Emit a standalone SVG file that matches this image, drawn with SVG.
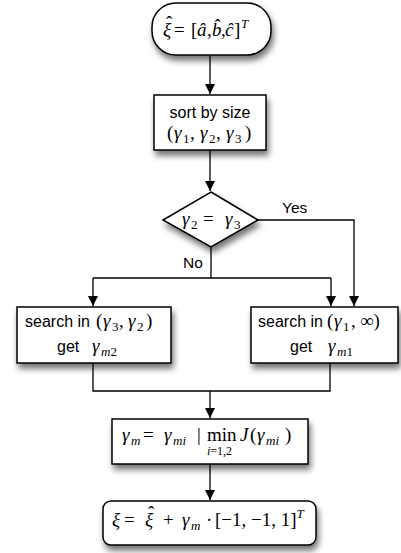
<svg xmlns="http://www.w3.org/2000/svg" width="401" height="553" viewBox="0 0 401 553">
<style>
.box{fill:#fff;stroke:#000;stroke-width:1.5;filter:url(#sh)}
.ln{fill:none;stroke:#000;stroke-width:1.3}
.sans{font-family:"Liberation Sans",Arial,sans-serif;font-size:16px;fill:#000}
.lbl{font-family:"Liberation Sans",Arial,sans-serif;font-size:15.5px;fill:#000}
.m{font-family:"Liberation Serif","DejaVu Serif",serif;font-size:19px;fill:#000}
.i{font-style:italic}
.s{font-size:13px}
.xs{font-size:12px}
</style>
<defs>
<filter id="sh" x="-20%" y="-20%" width="140%" height="160%">
<feGaussianBlur in="SourceAlpha" stdDeviation="3"/>
<feOffset dx="2" dy="5" result="b"/>
<feComponentTransfer><feFuncA type="linear" slope="0.55"/></feComponentTransfer>
<feMerge><feMergeNode/><feMergeNode in="SourceGraphic"/></feMerge>
</filter>
<marker id="ah" markerWidth="10" markerHeight="10" refX="10" refY="5" orient="auto" markerUnits="userSpaceOnUse">
<path d="M0,0 L10,5 L0,10 z" fill="#000"/>
</marker>
</defs>
<g id="connectors">
<path class="ln" d="M210,56 V94" marker-end="url(#ah)"/>
<path class="ln" d="M210,150 V191" marker-end="url(#ah)"/>
<path class="ln" d="M258,220 H354 V306" marker-end="url(#ah)"/>
<path class="ln" d="M211,247 V278"/>
<path class="ln" d="M93,278 H331"/>
<path class="ln" d="M93,278 V306" marker-end="url(#ah)"/>
<path class="ln" d="M331,278 V306" marker-end="url(#ah)"/>
<path class="ln" d="M93,363 V391 H330 V363"/>
<path class="ln" d="M210,391 V418" marker-end="url(#ah)"/>
<path class="ln" d="M210,464 V500" marker-end="url(#ah)"/>
<text class="lbl" x="282" y="213">Yes</text>
<text class="lbl" x="183" y="268">No</text>
</g>
<g id="start">
<rect class="box" x="152" y="3" width="119" height="52" rx="24" ry="24"/>
<text class="m" y="36"><tspan class="i" x="163">ξ</tspan><tspan x="174">=</tspan><tspan x="191">[</tspan><tspan class="i" x="197">â</tspan><tspan x="207">,</tspan><tspan class="i" x="212">b̂</tspan><tspan x="221">,</tspan><tspan class="i" x="225">ĉ</tspan><tspan x="234">]</tspan><tspan class="i s" x="241" y="28">T</tspan><tspan x="166" y="29">ˆ</tspan></text>
</g>
<g id="sort">
<rect class="box" x="154" y="95" width="112" height="55"/>
<text class="sans" x="210" y="118" text-anchor="middle" font-size="17">sort by size</text>
<text class="m" y="139"><tspan x="167">(</tspan><tspan class="i" x="174">γ</tspan><tspan class="s" x="183" dy="4">1</tspan><tspan x="190" dy="-4">,</tspan><tspan class="i" x="200">γ</tspan><tspan class="s" x="209" dy="4">2</tspan><tspan x="216" dy="-4">,</tspan><tspan class="i" x="226">γ</tspan><tspan class="s" x="235" dy="4">3</tspan><tspan x="245" dy="-4">)</tspan></text>
</g>
<g id="decision">
<path class="box" d="M211,192 L258,220 L211,247 L163,220 Z"/>
<text class="m" y="225"><tspan class="i" x="182">γ</tspan><tspan class="s" x="191" dy="4">2</tspan><tspan x="203" dy="-4">=</tspan><tspan class="i" x="225">γ</tspan><tspan class="s" x="234" dy="4">3</tspan></text>
</g>
<g id="left">
<rect class="box" x="17" y="307" width="154" height="56"/>
<text class="sans" x="25" y="327">search in</text>
<text class="m" y="327"><tspan x="96">(</tspan><tspan class="i" x="103">γ</tspan><tspan class="s" x="112" dy="4">3</tspan><tspan x="119" dy="-4">,</tspan><tspan class="i" x="128">γ</tspan><tspan class="s" x="137" dy="4">2</tspan><tspan x="146" dy="-4">)</tspan></text>
<text class="sans" x="57" y="352">get</text>
<text class="m" y="352"><tspan class="i" x="92">γ</tspan><tspan class="s i" x="101" dy="4">m</tspan><tspan class="s">2</tspan></text>
</g>
<g id="right">
<rect class="box" x="251" y="307" width="147" height="56"/>
<text class="sans" x="258" y="327">search in</text>
<text class="m" y="327"><tspan x="327">(</tspan><tspan class="i" x="334">γ</tspan><tspan class="s" x="343" dy="4">1</tspan><tspan x="351" dy="-4">,</tspan><tspan x="360">∞)</tspan></text>
<text class="sans" x="290" y="352">get</text>
<text class="m" y="352"><tspan class="i" x="328">γ</tspan><tspan class="s i" x="337" dy="4">m</tspan><tspan class="s">1</tspan></text>
</g>
<g id="select">
<rect class="box" x="112" y="419" width="196" height="45"/>
<text class="m" y="441"><tspan class="i" x="122">γ</tspan><tspan class="s i" x="131" dy="4">m</tspan><tspan x="143" dy="-4">=</tspan><tspan class="i" x="164">γ</tspan><tspan class="s i" x="173" dy="4">mi</tspan><tspan x="197" dy="-4">|</tspan><tspan x="207">min</tspan><tspan class="i" x="240">J</tspan><tspan x="250">(</tspan><tspan class="i" x="257">γ</tspan><tspan class="s i" x="266" dy="4">mi</tspan><tspan x="285" dy="-4">)</tspan><tspan class="xs i" x="207" y="455">i</tspan><tspan class="xs">=1,2</tspan></text>
</g>
<g id="result">
<rect class="box" x="103" y="501" width="213" height="44" rx="8" ry="8"/>
<text class="m" y="526"><tspan class="i" x="112">ξ</tspan><tspan x="124">=</tspan><tspan class="i" x="145">ξ</tspan><tspan x="163">+</tspan><tspan class="i" x="182">γ</tspan><tspan class="s i" x="191" dy="4">m</tspan><tspan x="206" dy="-4">·</tspan><tspan x="215">[−1, −1, 1]</tspan><tspan class="i s" dy="-8">T</tspan><tspan x="148" y="519">ˆ</tspan></text>
</g>
</svg>
